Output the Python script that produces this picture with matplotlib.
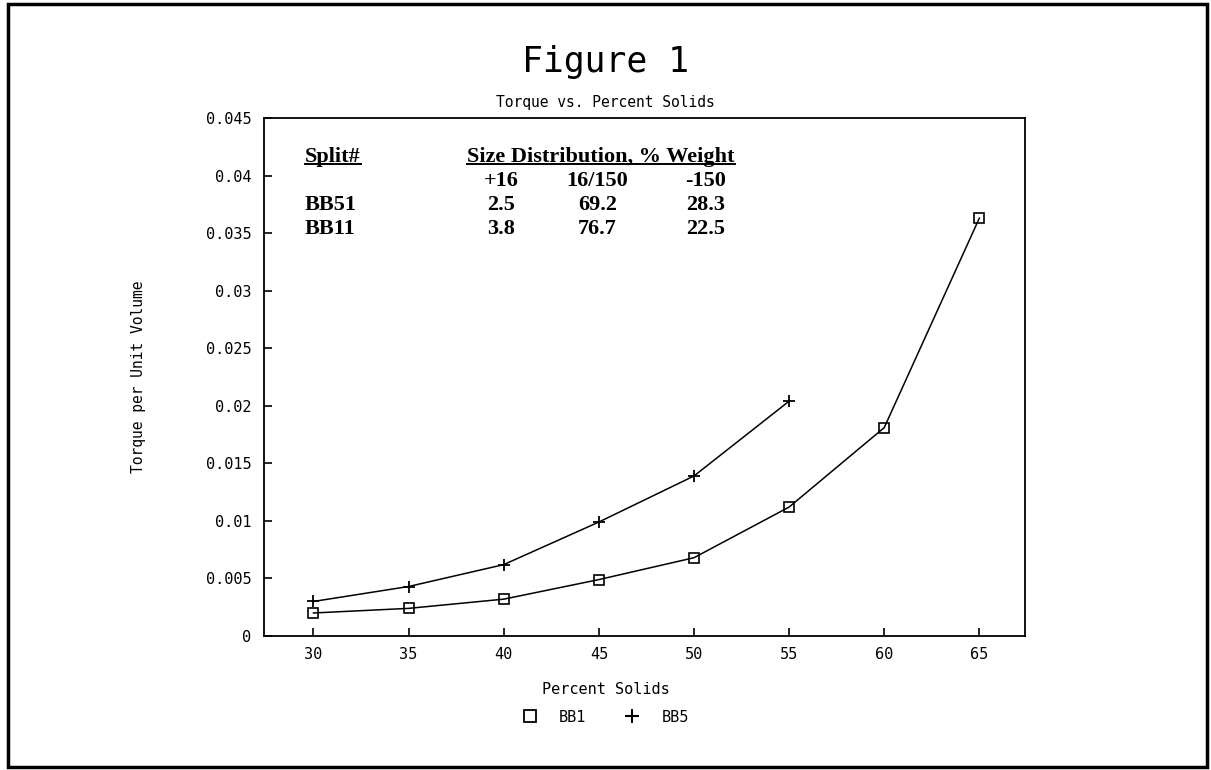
import matplotlib.pyplot as plt
from matplotlib.patches import Rectangle
from matplotlib.lines import Line2D

# torque measurements vs percent solids
solids_bb1 = [30, 35, 40, 45, 50, 55, 60, 65]
torque_bb1 = [0.0020, 0.0024, 0.0032, 0.0049, 0.0068, 0.0112, 0.0181, 0.0363]
solids_bb5 = [30, 35, 40, 45, 50, 55]
torque_bb5 = [0.0030, 0.0043, 0.0062, 0.0099, 0.0139, 0.0204]

# size distribution table
col_heads = ["+16", "16/150", "-150"]
split_names = ["BB51", "BB11"]
split_values = [["2.5", "69.2", "28.3"],
                ["3.8", "76.7", "22.5"]]

mono = "DejaVu Sans Mono"
serif = "Liberation Serif"

fig = plt.figure(figsize=(12.11, 7.70), dpi=100)
ax = fig.add_axes([264/1211, 1 - 636/770, 761/1211, 518/770])

ax.plot(solids_bb1, torque_bb1, color="black", lw=1.1, marker="s", ms=6.5,
        mfc="none", mec="black", mew=1.2)
ax.plot(solids_bb5, torque_bb5, color="black", lw=1.1, marker="+", ms=9,
        mew=1.3)

ax.set_xlim(27.4, 67.4)
ax.set_ylim(0, 0.045)
ax.set_xticks([30, 35, 40, 45, 50, 55, 60, 65])
ax.set_yticks([0, 0.005, 0.01, 0.015, 0.02, 0.025, 0.03, 0.035, 0.04, 0.045])
ax.set_yticklabels(["0", "0.005", "0.01", "0.015", "0.02", "0.025", "0.03",
                    "0.035", "0.04", "0.045"])
ax.tick_params(direction="in", length=6, width=1.2, top=False, right=False,
               labelsize=11)
ax.tick_params(axis="y", pad=9)
ax.tick_params(axis="x", pad=8)
for lab in ax.get_xticklabels() + ax.get_yticklabels():
    lab.set_family(mono)
for s in ax.spines.values():
    s.set_linewidth(1.3)

ax.set_ylabel("Torque per Unit Volume", family=mono, fontsize=10.5,
              labelpad=43)

fig.text(0.5, 1 - 62/770, "Figure 1", family=mono, fontsize=25,
         ha="center", va="center")
fig.text(0.5, 1 - 102/770, "Torque vs. Percent Solids", family=mono,
         fontsize=10.5, ha="center", va="center")
fig.text(0.5, 1 - 690/770, "Percent Solids", family=mono, fontsize=11,
         ha="center", va="center")

# legend shows markers only
handles = [Line2D([], [], ls="none", marker="s", ms=8, mfc="none",
                  mec="black", mew=1.3),
           Line2D([], [], ls="none", marker="+", ms=10, mec="black", mew=1.5)]
fig.legend(handles, ["BB1", "BB5"], loc="center",
           bbox_to_anchor=(0.5, 1 - 717/770), ncol=2, frameon=False,
           prop={"family": mono, "size": 11}, handlelength=1.0,
           handletextpad=1.4, columnspacing=2.5)

# table of size distributions inside the plot area
tx = {"split": 0.054, "head": 0.267}
col_x = [0.312, 0.438, 0.580]
row_y = [0.925, 0.878, 0.832, 0.786]
tstyle = dict(transform=ax.transAxes, family=serif, weight="bold",
              fontsize=16, va="center")

t_split = ax.text(tx["split"], row_y[0], "Split#", ha="left", **tstyle)
t_head = ax.text(tx["head"], row_y[0], "Size Distribution, % Weight",
                 ha="left", **tstyle)
for x, h in zip(col_x, col_heads):
    ax.text(x, row_y[1], h, ha="center", **tstyle)
for name, vals, y in zip(split_names, split_values, row_y[2:]):
    ax.text(tx["split"], y, name, ha="left", **tstyle)
    for x, v in zip(col_x, vals):
        ax.text(x, y, v, ha="center", **tstyle)

# underline the two header cells
fig.canvas.draw()
inv = ax.transAxes.inverted()
for t in (t_split, t_head):
    bb = t.get_window_extent()
    (x0, y0), (x1, _) = inv.transform([[bb.x0, bb.y0 + 3], [bb.x1, bb.y1]])
    ax.add_line(Line2D([x0, x1], [y0, y0], transform=ax.transAxes,
                       color="black", lw=1.4))

# outer page frame
fig.patches.append(Rectangle((8/1211, 1 - 767/770), 1199/1211, 763/770,
                             transform=fig.transFigure, fill=False,
                             edgecolor="black", lw=2.5))

fig.savefig("out.png", dpi=100)
